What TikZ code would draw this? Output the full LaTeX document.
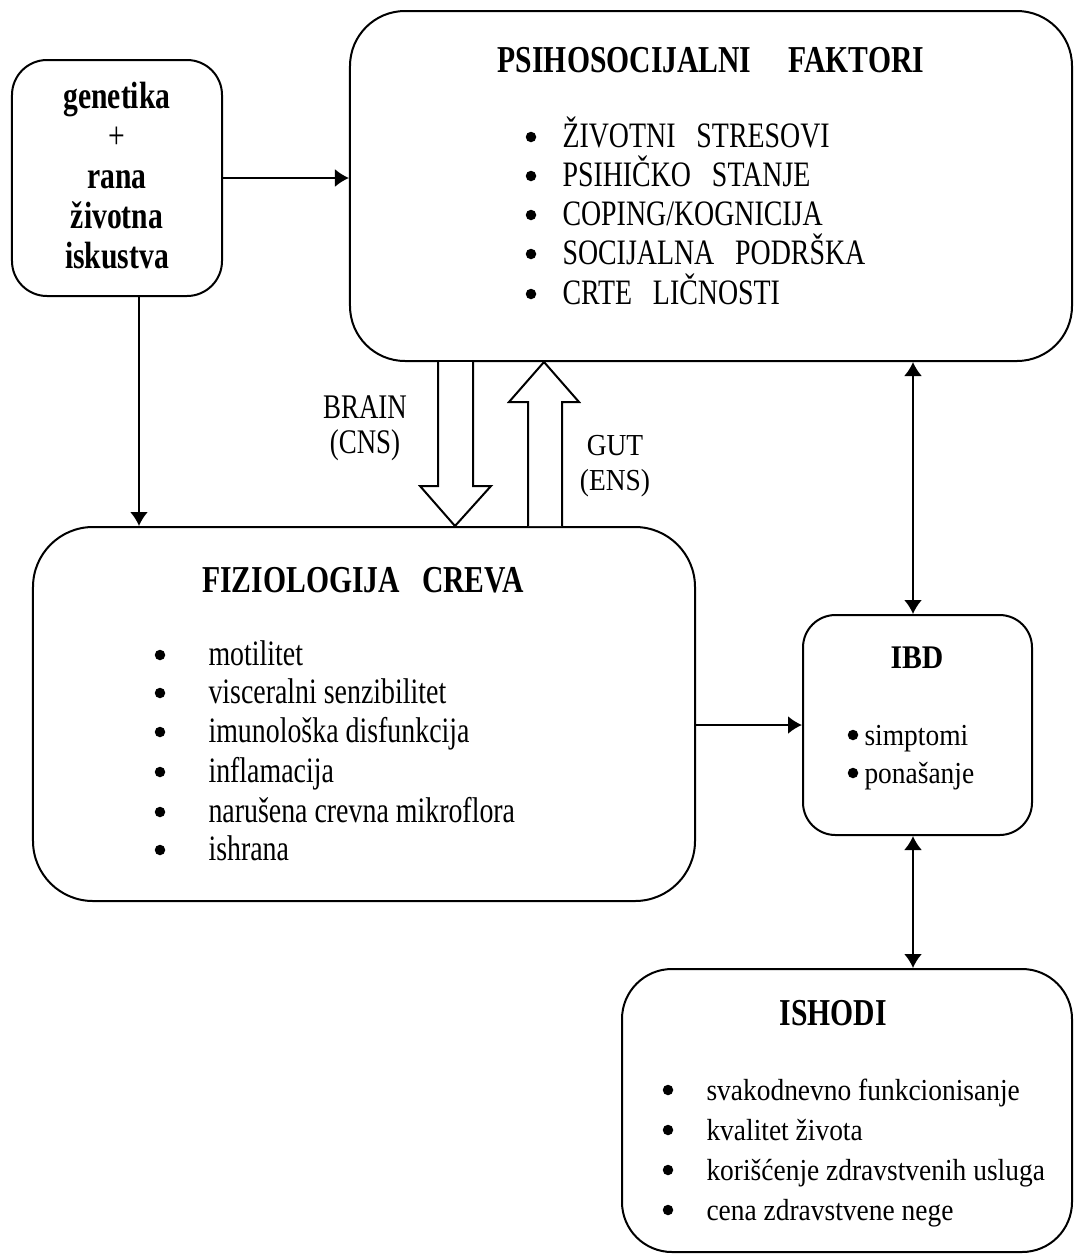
\documentclass[tikz,border=0pt]{standalone}
\usepackage{fontspec}
\setmainfont{Liberation Serif}
\newfontfamily\narrowA[FakeStretch=0.78]{Liberation Serif}
\newfontfamily\narrowB[FakeStretch=0.9]{Liberation Serif}
\usepackage{tikz}
\usetikzlibrary{arrows.meta}

\begin{document}
\begin{tikzpicture}[x=0.4pt,y=-0.4pt]
                \tikzstyle{box}=[draw,line width=0.8pt,inner sep=0pt]
                \tikzstyle{arr}=[line width=0.8pt,-{Latex[length=5.6pt,width=7.2pt]}]
                \tikzstyle{dbl}=[line width=0.8pt,{Latex[length=5.6pt,width=7.2pt]}-{Latex[length=5.6pt,width=7.2pt]}]
                \tikzstyle{hollow}=[line width=0.8pt,fill=white,line join=miter]
                \tikzstyle{dot}=[circle,fill,inner sep=0pt,minimum size=4.2pt]
                \tikzstyle{head}=[anchor=base,inner sep=0pt,font=\fontsize{12}{14}\selectfont\bfseries]
                \tikzstyle{tallhead}=[anchor=base,inner sep=0pt,font=\narrowA\fontsize{15.2}{16}\selectfont\bfseries]
                \tikzstyle{txtA}=[inner sep=0pt,font=\narrowA\fontsize{14.3}{15}\selectfont]
                \tikzstyle{txtB}=[inner sep=0pt,font=\narrowB\fontsize{12.2}{14}\selectfont]
                \newcommand\stavka[6]{\node[dot] at (#2,#4-10) (#5b) {};%
                \node[#1,anchor=base west] at (#3,#4) (#5) {#6};}
                \useasboundingbox (0,0) rectangle (1074,1254);
                % boxes
                \node[box,rounded corners=14pt,minimum width=84pt,minimum height=94.4pt] at (117,178) (gen) {};
                \node[box,rounded corners=22pt,minimum width=288.8pt,minimum height=140pt] at (711,186) (psi) {};
                \node[box,rounded corners=24pt,minimum width=264.8pt,minimum height=149.6pt] at (364,714) (fiz) {};
                \node[box,rounded corners=13pt,minimum width=91.6pt,minimum height=88pt] at (917.5,725) (ibd) {};
                \node[box,rounded corners=20pt,minimum width=180pt,minimum height=113.2pt] at (847,1110.5) (ish) {};
                % genetika box
                \node[tallhead] at (117,108) (g1) {genetika};
                \node[tallhead,font=\narrowA\fontsize{15.2}{16}\selectfont] at (117,148) (g2) {+};
                \node[tallhead] at (117,188) (g3) {rana};
                \node[tallhead] at (117,228) (g4) {životna};
                \node[tallhead] at (117,268) (g5) {iskustva};
                % psihosocijalni faktori
                \node[tallhead] at (711,72) (psihead) {PSIHOSOCIJALNI\ \ \ \ \ FAKTORI};
                \stavka{txtA}{531}{562}{147}{p1}{ŽIVOTNI\ \ \ STRESOVI}
                \stavka{txtA}{531}{562}{186}{p2}{PSIHIČKO\ \ \ STANJE}
                \stavka{txtA}{531}{562}{225}{p3}{COPING/KOGNICIJA}
                \stavka{txtA}{531}{562}{264}{p4}{SOCIJALNA\ \ \ PODRŠKA}
                \stavka{txtA}{531}{562}{304}{p5}{CRTE\ \ \ LIČNOSTI}
                % fiziologija creva
                \node[tallhead] at (363,592) (fizhead) {FIZIOLOGIJA\ \ \ CREVA};
                \stavka{txtA}{160}{208}{665}{f1}{motilitet}
                \stavka{txtA}{160}{208}{703}{f2}{visceralni senzibilitet}
                \stavka{txtA}{160}{208}{742}{f3}{imunološka disfunkcija}
                \stavka{txtA}{160}{208}{782}{f4}{inflamacija}
                \stavka{txtA}{160}{208}{822}{f5}{narušena crevna mikroflora}
                \stavka{txtA}{160}{208}{860}{f6}{ishrana}
                % IBD
                \node[head,font=\narrowB\fontsize{13.2}{14}\selectfont\bfseries] at (917,668) (ibdhead) {IBD};
                \stavka{txtB}{853}{864}{745}{i1}{simptomi}
                \stavka{txtB}{853}{864}{783}{i2}{ponašanje}
                % ishodi
                \node[tallhead] at (833,1025) (ishhead) {ISHODI};
                \stavka{txtB}{668}{706}{1100}{o1}{svakodnevno funkcionisanje}
                \stavka{txtB}{668}{706}{1140}{o2}{kvalitet života}
                \stavka{txtB}{668}{706}{1180}{o3}{korišćenje zdravstvenih usluga}
                \stavka{txtB}{668}{706}{1220}{o4}{cena zdravstvene nege}
                % brain-gut labels
                \node[txtA,font=\narrowA\fontsize{13.8}{15}\selectfont,anchor=base] at (365,418) (brain) {BRAIN};
                \node[txtA,font=\narrowA\fontsize{13.8}{15}\selectfont,anchor=base] at (365,453) (cns) {(CNS)};
                \node[txtB,anchor=base] at (615,455) (gut) {GUT};
                \node[txtB,anchor=base] at (615,490) (ens) {(ENS)};
                % arrows
                \draw[arr] (gen.east) -- (gen.east -| psi.west);
                \draw[arr] (139,0 |- gen.south) -- (139,0 |- fiz.north);
                \draw[dbl] (913,0 |- psi.south) -- (913,0 |- ibd.north);
                \draw[arr] (fiz.east |- ibd.west) -- (ibd.west);
                \draw[dbl] (913,0 |- ibd.south) -- (913,0 |- ish.north);
                \draw[hollow] (438,0 |- psi.south) -- (438,486) -- (420,486) -- (455,0 |- fiz.north)
                        -- (491,486) -- (473,486) -- (473,0 |- psi.south);
                \draw[hollow] (528,0 |- fiz.north) -- (528,402) -- (509,402) -- (544,0 |- psi.south)
                        -- (579,402) -- (562,402) -- (562,0 |- fiz.north);
            \end{tikzpicture}
\end{document}
